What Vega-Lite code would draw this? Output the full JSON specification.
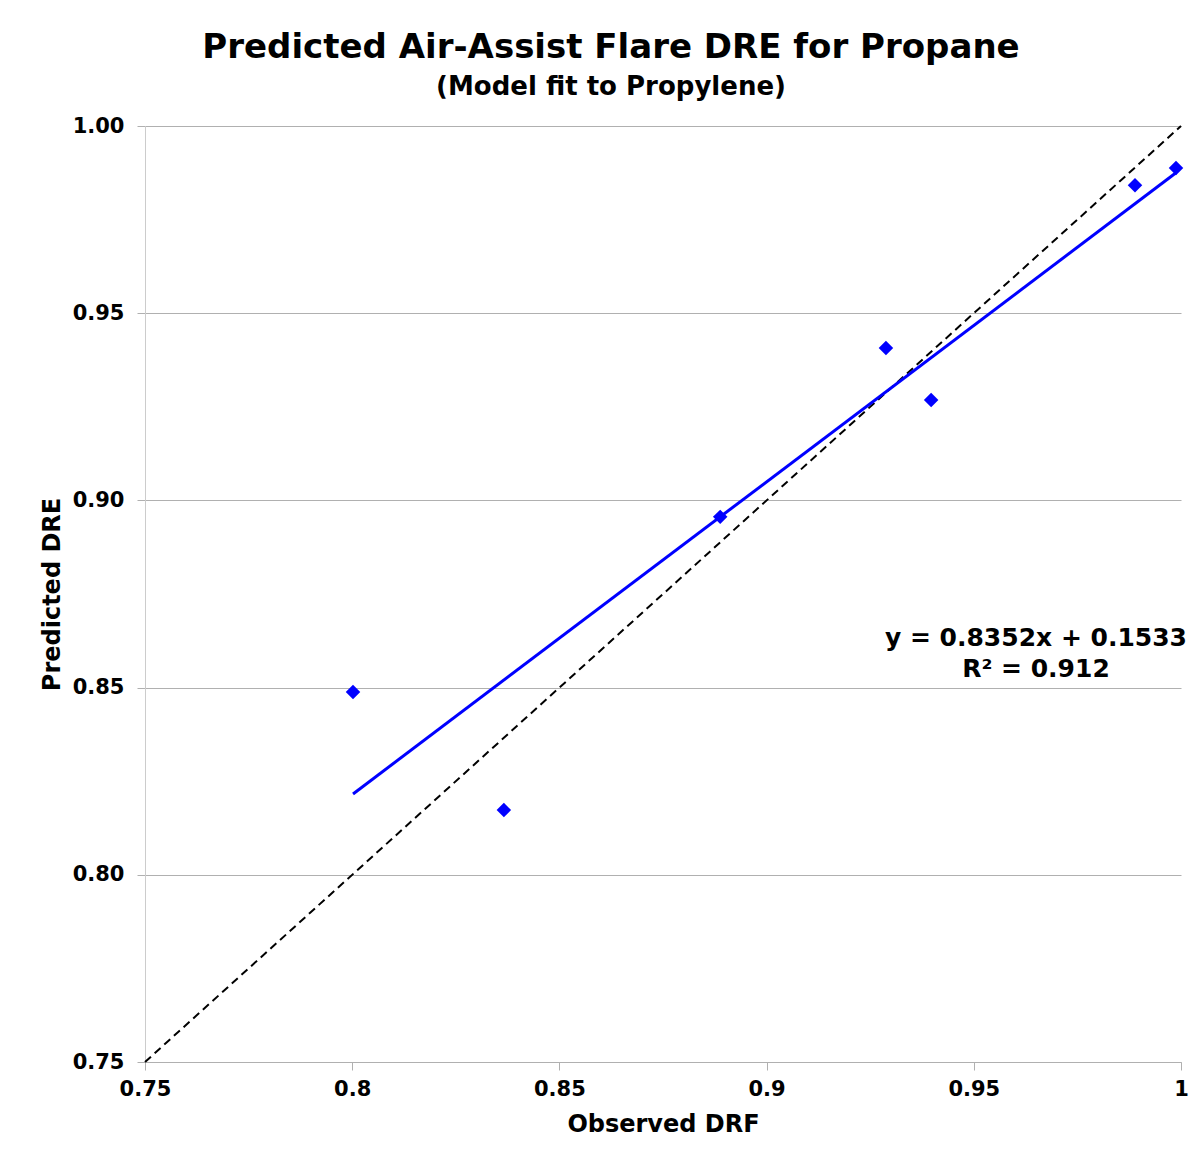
{
  "$schema": "https://vega.github.io/schema/vega-lite/v6.json",
  "autosize": {"type": "none"},
  "padding": {"left": 145, "top": 126, "right": 17, "bottom": 95},
  "width": 1036,
  "height": 936,
  "background": "white",
  "config": {
    "font": "DejaVu Sans",
    "view": {"stroke": null},
    "axis": {
      "labelFont": "DejaVu Sans",
      "labelFontWeight": "bold",
      "labelFontSize": 21,
      "labelColor": "black",
      "titleFont": "DejaVu Sans",
      "titleFontWeight": "bold",
      "titleFontSize": 24,
      "titleColor": "black",
      "tickColor": "#b0b0b0",
      "domainColor": "#b0b0b0",
      "gridColor": "#b0b0b0",
      "tickSize": 8
    }
  },
  "title": {
    "text": "Predicted Air-Assist Flare DRE for Propane",
    "subtitle": "(Model fit to Propylene)",
    "font": "DejaVu Sans",
    "fontSize": 34,
    "fontWeight": "bold",
    "color": "black",
    "subtitleFont": "DejaVu Sans",
    "subtitleFontSize": 26,
    "subtitleFontWeight": "bold",
    "subtitleColor": "black",
    "subtitlePadding": 9,
    "anchor": "middle",
    "frame": "group",
    "dx": -52,
    "offset": 15
  },
  "datasets": {
    "points": [
      {"observed": 0.8002, "predicted": 0.8488},
      {"observed": 0.8366, "predicted": 0.8173},
      {"observed": 0.8888, "predicted": 0.8956},
      {"observed": 0.9288, "predicted": 0.9407},
      {"observed": 0.9397, "predicted": 0.9268},
      {"observed": 0.9889, "predicted": 0.9842},
      {"observed": 0.9988, "predicted": 0.9888}
    ],
    "fit": [
      {"observed": 0.8002, "predicted": 0.8216},
      {"observed": 0.9988, "predicted": 0.9875}
    ],
    "identity": [
      {"observed": 0.75, "predicted": 0.75},
      {"observed": 1.0, "predicted": 1.0}
    ],
    "labels": [
      {"observed": 0.965, "predicted": 0.8632, "label": "y = 0.8352x + 0.1533"},
      {"observed": 0.965, "predicted": 0.8549, "label": "R² = 0.912"}
    ]
  },
  "encoding": {
    "x": {
      "field": "observed", "type": "quantitative",
      "scale": {"domain": [0.75, 1.0], "nice": false, "zero": false},
      "axis": {
        "title": "Observed DRF",
        "values": [0.75, 0.8, 0.85, 0.9, 0.95, 1.0],
        "format": "~g",
        "grid": false,
        "labelPadding": 8,
        "titlePadding": 13,
        "labelFlush": false
      }
    },
    "y": {
      "field": "predicted", "type": "quantitative",
      "scale": {"domain": [0.75, 1.0], "nice": false, "zero": false},
      "axis": {
        "title": "Predicted DRE",
        "values": [0.75, 0.8, 0.85, 0.9, 0.95, 1.0],
        "format": ".2f",
        "grid": true,
        "domainColor": "#cccccc",
        "labelPadding": 13,
        "titlePadding": 8,
        "labelFlush": false
      }
    }
  },
  "layer": [
    {
      "data": {"name": "identity"},
      "mark": {"type": "line", "color": "black", "strokeWidth": 2, "strokeDash": [8, 5]}
    },
    {
      "data": {"name": "fit"},
      "mark": {"type": "line", "color": "#0000ff", "strokeWidth": 3}
    },
    {
      "data": {"name": "points"},
      "mark": {"type": "point", "shape": "diamond", "filled": true, "color": "#0000ff", "size": 210, "opacity": 1}
    },
    {
      "data": {"name": "labels"},
      "mark": {"type": "text", "font": "DejaVu Sans", "fontWeight": "bold", "fontSize": 25, "color": "black", "align": "center", "baseline": "middle"},
      "encoding": {"text": {"field": "label"}}
    }
  ]
}
